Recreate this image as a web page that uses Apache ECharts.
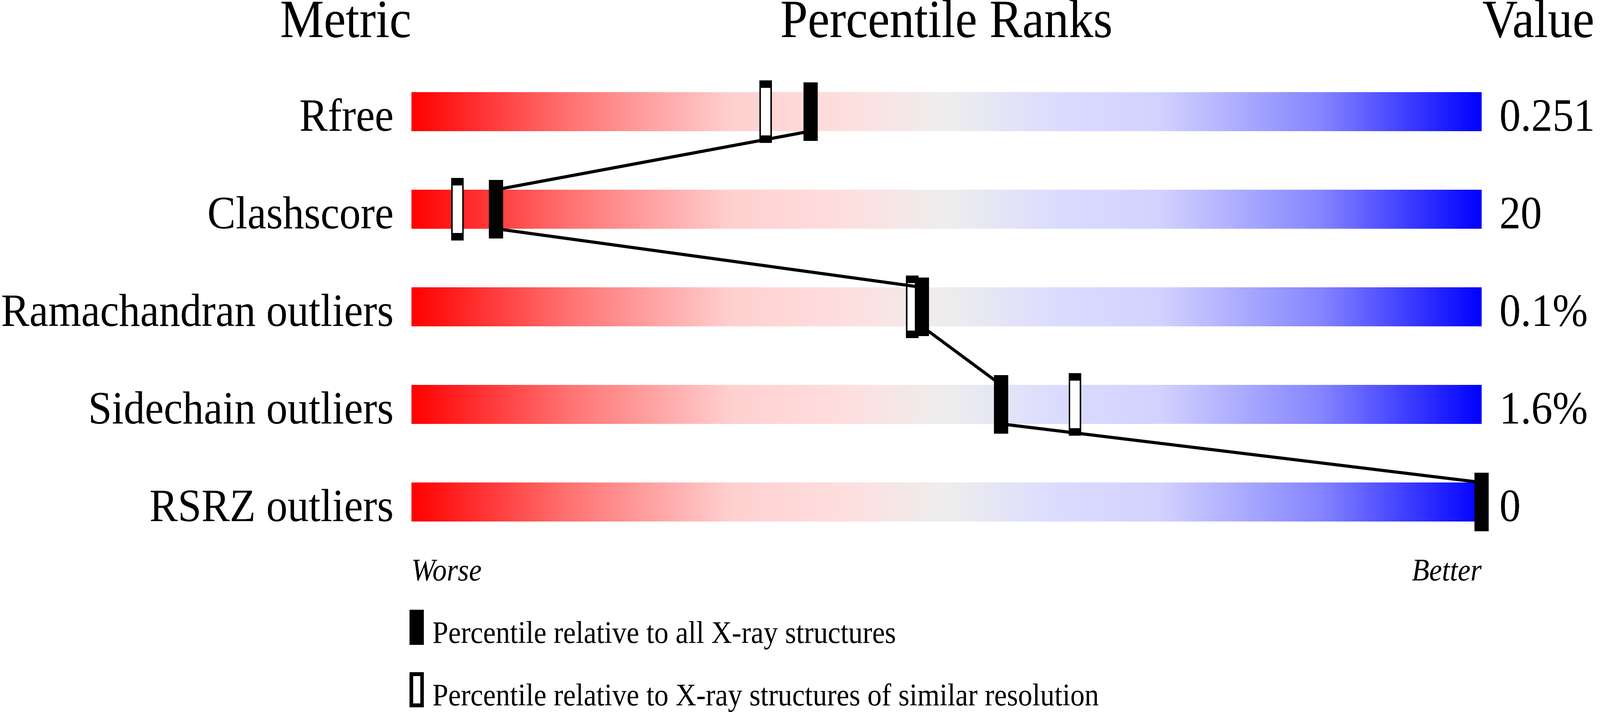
<!DOCTYPE html>
<html>
<head>
<meta charset="utf-8">
<script src="https://cdn.jsdelivr.net/npm/echarts@6/dist/echarts.min.js"></script>
<style>
html,body{margin:0;padding:0;background:#fff;overflow:hidden;}
#chart{width:4485px;height:1824px;transform-origin:0 0;}
</style>
</head>
<body>
<div id="chart"></div>
<script>
// ---- data ----
const metrics = ['Rfree', 'Clashscore', 'Ramachandran outliers', 'Sidechain outliers', 'RSRZ outliers'];
const metricValues = ['0.251', '20', '0.1%', '1.6%', '0'];
const pctAll = [37.3, 7.9, 47.7, 55.1, 100];
const pctSimilar = [33.1, 4.3, 46.8, 62.0, '-'];
const scaleMax = 100;
const legendAll = 'Percentile relative to all X-ray structures';
const legendSimilar = 'Percentile relative to X-ray structures of similar resolution';

// ---- layout / styles ----
const PAGE_W = 4485, PAGE_H = 1824;
const FONT = 'Liberation Serif';
const BAR_H = 100;
const LABEL_SIZE = 119, TITLE_SIZE = 138, NOTE_SIZE = 80;

const el = document.getElementById('chart');
const sx = Math.min(1, window.innerWidth / PAGE_W);
const sy = Math.min(1, window.innerHeight / PAGE_H);
el.style.transform = 'scale(' + sx + ',' + sy + ')';

// distance from the 'middle' text line down to the alphabetic baseline
function baseOff(size, style) {
  const ctx = document.createElement('canvas').getContext('2d');
  ctx.font = (style ? style + ' ' : '') + size + 'px "' + FONT + '"';
  ctx.textBaseline = 'middle';
  return ctx.measureText('H').actualBoundingBoxDescent;
}
const offLabel = baseOff(LABEL_SIZE);
const offTitle = baseOff(TITLE_SIZE);
const offNote = baseOff(NOTE_SIZE, 'italic');
const offLegend = baseOff(NOTE_SIZE);
// row labels: baseline on the bottom edge of the bar
const labelLineH = Math.max(2, 2 * (BAR_H / 2 - offLabel));

const chart = echarts.init(el, null, {renderer: 'canvas', devicePixelRatio: 2});

const gradient = new echarts.graphic.LinearGradient(0, 0, 1, 0, [
  {offset: 0, color: '#ff0000'},
  {offset: 0.15, color: '#ff7474'},
  {offset: 0.3, color: '#ffd0d0'},
  {offset: 0.4, color: '#ffdede'},
  {offset: 0.5, color: '#eeeeee'},
  {offset: 0.6, color: '#dcdcff'},
  {offset: 0.7, color: '#d2d2ff'},
  {offset: 0.85, color: '#8585ff'},
  {offset: 1, color: '#0000ff'}
]);

const labelStyle = {
  fontSize: LABEL_SIZE, fontFamily: FONT, color: '#000', margin: 50, interval: 0,
  verticalAlign: 'top', lineHeight: labelLineH
};

function txt(x, baseline, text, size, align, off, italic) {
  return {
    type: 'text', x: x, y: baseline - off,
    style: {text: text, fontSize: size, fontStyle: italic ? 'italic' : 'normal', fontFamily: FONT,
            fill: '#000', align: align, verticalAlign: 'middle'}
  };
}

const option = {
  backgroundColor: '#ffffff',
  animation: false,
  grid: {left: 1153, right: 332, top: 161, bottom: 413, containLabel: false},
  xAxis: {type: 'value', min: 0, max: scaleMax, show: false},
  yAxis: [
    {
      type: 'category', data: metrics, inverse: true,
      axisLine: {show: false}, axisTick: {show: false}, splitLine: {show: false},
      axisLabel: labelStyle
    },
    {
      type: 'category', data: metricValues, inverse: true, position: 'right',
      axisLine: {show: false}, axisTick: {show: false}, splitLine: {show: false},
      axisLabel: labelStyle
    }
  ],
  graphic: [
    txt(1153, 96, 'Metric', TITLE_SIZE, 'right', offTitle),
    txt(2653, 96, 'Percentile Ranks', TITLE_SIZE, 'center', offTitle),
    txt(4155, 96, 'Value', TITLE_SIZE, 'left', offTitle),
    txt(1153, 1487, 'Worse', NOTE_SIZE, 'left', offNote, true),
    txt(4153, 1487, 'Better', NOTE_SIZE, 'right', offNote, true),
    // legend
    {type: 'rect', shape: {x: 1148, y: 1562, width: 40, height: 90}, style: {fill: '#000'}},
    txt(1212, 1647, legendAll, NOTE_SIZE, 'left', offLegend),
    {type: 'rect', shape: {x: 1153, y: 1727, width: 30, height: 80}, style: {fill: '#fff', stroke: '#000', lineWidth: 10}},
    txt(1212, 1807, legendSimilar, NOTE_SIZE, 'left', offLegend)
  ],
  series: [
    {
      type: 'bar', name: 'scale', data: metrics.map(() => scaleMax), barWidth: BAR_H,
      itemStyle: {color: gradient}, silent: true, z: 1
    },
    {
      type: 'scatter', name: legendSimilar,
      data: pctSimilar.map((p, i) => [p, i]),
      symbol: 'rect', symbolSize: [31, 141],
      itemStyle: {color: '#ffffff', borderColor: '#000', borderWidth: 9, opacity: 1},
      z: 2
    },
    {
      type: 'custom', name: 'link',
      data: pctAll.map((p, i) => [p, i]),
      encode: {x: 0, y: 1},
      renderItem: function (params, api) {
        const i = params.dataIndex;
        if (i >= pctAll.length - 1) return null;
        const a = api.coord([pctAll[i], i]);
        const b = api.coord([pctAll[i + 1], i + 1]);
        return {
          type: 'line',
          shape: {x1: a[0], y1: a[1] + BAR_H / 2, x2: b[0], y2: b[1] - BAR_H / 2},
          style: {stroke: '#000', lineWidth: 8}
        };
      },
      z: 3
    },
    {
      type: 'scatter', name: legendAll,
      data: pctAll.map((p, i) => [p, i]),
      symbol: 'rect', symbolSize: [40, 150],
      itemStyle: {color: '#000', opacity: 1},
      z: 4
    }
  ]
};
chart.setOption(option);
</script>
</body>
</html>
